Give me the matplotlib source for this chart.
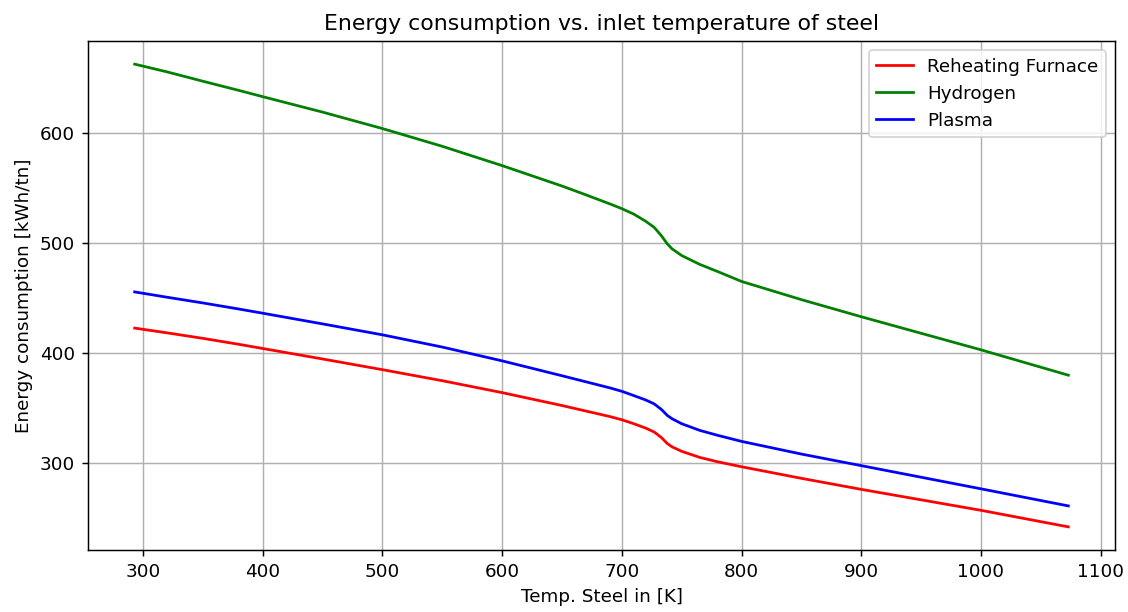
import matplotlib
matplotlib.use("Agg")
import matplotlib.pyplot as plt

temps = [293, 320, 350, 380, 400, 450, 500, 550, 600, 650, 670, 690, 700, 710, 720, 727,
         733, 738, 742, 750, 765, 780, 800, 850, 900, 950, 1000, 1073]
reheating = [422.7, 418.4, 413.4, 408.0, 404.2, 394.7, 385, 375, 364.2, 352.5, 347.5, 342.5,
             339.6, 336, 332, 328.5, 323.5, 318, 315, 311, 305.5, 301.5, 297, 286.5, 276.5,
             267, 257.5, 242.5]
hydrogen = [662, 655, 646.5, 638.2, 632.5, 618.5, 603.6, 587.5, 570, 551.5, 543.5, 535.3,
            531, 526, 519.5, 514, 506.5, 499, 494.5, 488.5, 480.5, 474, 465, 448.5, 433,
            418, 403, 380]
plasma = [455.5, 450.7, 445.5, 440, 436.2, 426.5, 416.6, 405.5, 393, 379.5, 374, 368.5,
          365.4, 361.5, 357.5, 354, 349, 343.5, 340.5, 336, 330, 325.5, 320, 308.5, 298,
          287.5, 277, 261.5]

dpi = 132
fig = plt.figure(figsize=(1128 / dpi, 612 / dpi), dpi=dpi)
ax = fig.add_axes([0.078, 0.1013, 0.9105, 0.8317])
ax.plot(temps, reheating, color="red", label="Reheating Furnace")
ax.plot(temps, hydrogen, color="green", label="Hydrogen")
ax.plot(temps, plasma, color="blue", label="Plasma")
ax.set_title("Energy consumption vs. inlet temperature of steel")
ax.set_xlabel("Temp. Steel in [K]")
ax.set_ylabel("Energy consumption [kWh/tn]")
ax.set_xticks([300, 400, 500, 600, 700, 800, 900, 1000, 1100])
ax.set_yticks([300, 400, 500, 600])
ax.grid(True)
ax.legend(loc="upper right")
fig.savefig("out.png", dpi=dpi)
